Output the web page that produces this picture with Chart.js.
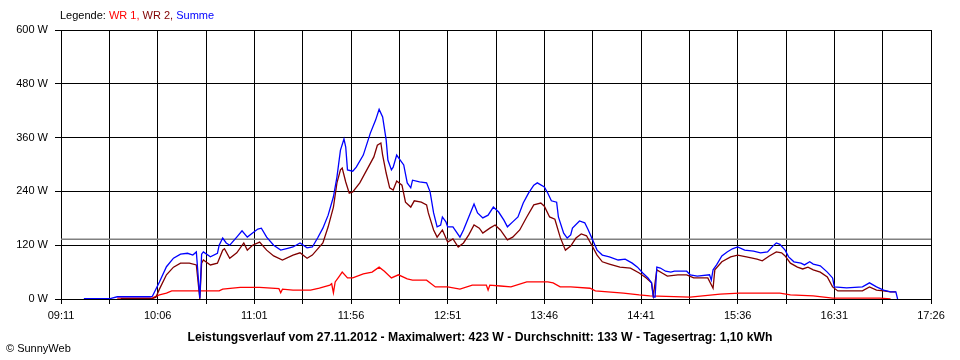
<!DOCTYPE html>
<html>
<head>
<meta charset="utf-8">
<script src="https://cdn.jsdelivr.net/npm/chart.js@4.4.0/dist/chart.umd.min.js"></script>
<style>
  body { margin: 0; background: #fff; }
  #wrap { position: relative; width: 960px; height: 360px; font-family: 'Liberation Sans', Arial, sans-serif; }
  #legend { position: absolute; left: 60px; top: 9px; font-size: 11px; color: #000; }
  #title { position: absolute; left: 0; top: 330px; width: 960px; text-align: center; font-size: 12.2px; font-weight: bold; }
  #copy { position: absolute; left: 6px; top: 342px; font-size: 11px; }
</style>
</head>
<body>
<div id="wrap">
  <canvas id="chart" width="960" height="360"></canvas>
  <div id="legend">Legende: <span style="color:#ff0000">WR 1,</span> <span style="color:#800000">WR 2,</span> <span style="color:#0000ff">Summe</span></div>
  <div id="title">Leistungsverlauf vom 27.11.2012 - Maximalwert: 423 W - Durchschnitt: 133 W - Tagesertrag: 1,10 kWh</div>
  <div id="copy">&copy; SunnyWeb</div>
</div>
<script>
// Achsenbeschriftung
const xTickLabels = ['09:11', '10:06', '11:01', '11:56', '12:51', '13:46', '14:41', '15:36', '16:31', '17:26'];
const yTicks = [0, 120, 240, 360, 480, 600];
const average = 133;

// Summe (blau)
const summeTimes = [
  '09:24','09:39','09:43','10:02','10:03','10:07','10:11','10:15','10:19','10:23',
  '10:26','10:28','10:30','10:31','10:32','10:36','10:40','10:41','10:43','10:45',
  '10:47','10:51','10:54','10:57','11:00','11:03','11:05','11:08','11:12','11:16',
  '11:20','11:23','11:27','11:31','11:34','11:37','11:40','11:43','11:46','11:48',
  '11:50','11:52','11:53','11:54','11:57','11:59','12:03','12:07','12:10','12:12',
  '12:14','12:16','12:17','12:19','12:20','12:22','12:24','12:26','12:28','12:30',
  '12:31','12:35','12:39','12:41','12:43','12:45','12:47','12:48','12:50','12:51',
  '12:54','12:58','13:00','13:03','13:06','13:08','13:11','13:14','13:17','13:20',
  '13:23','13:25','13:28','13:31','13:34','13:37','13:40','13:42','13:46','13:48',
  '13:50','13:53','13:54','13:57','13:59','14:01','14:02','14:06','14:09','14:11',
  '14:14','14:16','14:19','14:23','14:28','14:32','14:36','14:39','14:42','14:45',
  '14:47','14:48','14:49','14:50','14:52','14:55','14:58','15:00','15:07','15:09',
  '15:13','15:20','15:21','15:22','15:24','15:27','15:30','15:33','15:36','15:40',
  '15:45','15:49','15:53','15:56','15:58','16:00','16:03','16:05','16:08','16:12',
  '16:14','16:17','16:19','16:23','16:27','16:30','16:31','16:38','16:47','16:51',
  '16:55','16:59','17:03','17:06','17:07'
];
const summeValues = [
  1, 1, 5, 5, 6, 38, 72, 91, 100, 102,
  98, 105, 2, 100, 105, 94, 102, 120, 136, 125,
  120, 138, 152, 138, 147, 156, 158, 138, 120, 109,
  113, 116, 125, 114, 116, 136, 158, 187, 228, 272,
  332, 357, 339, 288, 285, 294, 321, 370, 399, 423,
  406, 355, 310, 288, 294, 321, 310, 299, 259, 248,
  265, 261, 259, 239, 192, 161, 165, 183, 172, 161,
  161, 138, 154, 183, 212, 192, 181, 187, 205, 194,
  176, 161, 172, 183, 214, 236, 254, 259, 250, 236,
  219, 216, 183, 147, 136, 143, 158, 174, 170, 154,
  127, 109, 98, 94, 87, 89, 80, 71, 58, 47,
  36, 4, 4, 71, 69, 62, 60, 62, 62, 54,
  51, 54, 42, 65, 76, 96, 105, 112, 116, 109,
  107, 103, 105, 118, 125, 122, 109, 94, 83, 80,
  76, 83, 78, 74, 60, 47, 27, 25, 27, 36,
  27, 20, 16, 16, 0
];

// WR 1 (rot)
const wr1Times = [
  '09:43','10:03','10:04','10:07','10:11','10:14','10:41','10:43','10:53','11:04',
  '11:15','11:16','11:17','11:23','11:33','11:38','11:44','11:45','11:46','11:47',
  '11:49','11:51','11:54','11:57','12:03','12:08','12:12','12:15','12:19','12:23',
  '12:28','12:31','12:39','12:44','12:51','12:58','13:05','13:13','13:14','13:15',
  '13:21','13:27','13:36','13:48','13:51','13:55','14:01','14:12','14:15','14:31',
  '14:40','14:46','15:09','15:26','15:37','15:56','16:00','16:06','16:19','16:30',
  '16:57','17:03'
];
const wr1Values = [
  2, 2, 4, 9, 13, 18, 18, 22, 26, 26,
  23, 14, 22, 20, 20, 24, 31, 34, 14, 38,
  49, 60, 47, 47, 56, 60, 71, 62, 47, 54,
  45, 42, 42, 27, 27, 22, 31, 31, 20, 31,
  29, 27, 38, 38, 36, 27, 27, 24, 18, 13,
  9, 7, 4, 11, 13, 13, 13, 9, 7, 2,
  2, 0
];

// WR 2 (dunkelrot)
const wr2Times = [
  '09:45','10:03','10:05','10:07','10:11','10:15','10:19','10:24','10:28','10:30',
  '10:31','10:32','10:36','10:40','10:43','10:44','10:47','10:51','10:55','10:57',
  '11:00','11:04','11:08','11:12','11:17','11:23','11:27','11:31','11:34','11:40',
  '11:43','11:46','11:48','11:50','11:51','11:53','11:55','11:57','12:01','12:05',
  '12:09','12:11','12:13','12:14','12:16','12:18','12:20','12:22','12:25','12:27',
  '12:30','12:32','12:36','12:39','12:40','12:43','12:45','12:48','12:51','12:54',
  '12:57','13:00','13:03','13:06','13:09','13:11','13:15','13:18','13:21','13:25',
  '13:28','13:32','13:36','13:40','13:44','13:46','13:49','13:52','13:55','13:58',
  '14:01','14:04','14:07','14:10','14:13','14:16','14:19','14:23','14:29','14:35',
  '14:40','14:44','14:47','14:48','14:50','14:53','14:56','15:02','15:07','15:11',
  '15:19','15:22','15:23','15:27','15:32','15:36','15:41','15:47','15:50','15:54',
  '15:58','16:01','16:03','16:06','16:10','16:13','16:16','16:19','16:23','16:27',
  '16:30','16:33','16:47','16:51','16:55','16:59','17:03','17:06'
];
const wr2Values = [
  1, 1, 4, 22, 54, 71, 80, 80, 76, 0,
  80, 87, 76, 80, 109, 112, 91, 103, 125, 109,
  120, 127, 109, 96, 87, 98, 103, 91, 98, 125,
  161, 205, 259, 288, 292, 261, 236, 239, 259, 288,
  317, 343, 348, 321, 281, 248, 243, 263, 254, 216,
  205, 219, 216, 210, 192, 154, 138, 154, 127, 134,
  116, 125, 143, 165, 158, 147, 158, 165, 154, 132,
  138, 154, 183, 210, 214, 207, 183, 178, 138, 109,
  118, 136, 145, 141, 120, 98, 83, 78, 71, 69,
  58, 47, 36, 7, 65, 58, 51, 54, 54, 47,
  47, 24, 65, 83, 94, 98, 94, 89, 85, 96,
  105, 103, 96, 80, 71, 67, 71, 65, 60, 49,
  27, 18, 18, 27, 20, 18, 16, 16
];

const clock = s => { const p = s.split(':').map(Number); return p[0] * 60 + p[1]; };
const start = clock(xTickLabels[0]);
const toX = s => clock(s) - start;
const fmt = v => {
  const m = Math.round(start + v);
  return String(Math.floor(m / 60)).padStart(2, '0') + ':' + String(m % 60).padStart(2, '0');
};
const points = (times, values) => times.map((t, i) => ({ x: toX(t), y: values[i] }));

const labelMinutes = xTickLabels.map(toX);
const gridMinutes = [];
labelMinutes.forEach((m, i) => {
  gridMinutes.push(m);
  if (i < labelMinutes.length - 1) gridMinutes.push((m + labelMinutes[i + 1]) / 2);
});
const xMax = labelMinutes[labelMinutes.length - 1];

const tickFont = { family: "'Liberation Sans', Arial, sans-serif", size: 11 };

new Chart(document.getElementById('chart'), {
  type: 'line',
  data: {
    datasets: [
      { label: 'Summe', data: points(summeTimes, summeValues), borderColor: '#0000ff', order: 0 },
      { label: 'WR 2', data: points(wr2Times, wr2Values), borderColor: '#800000', order: 1 },
      { label: 'WR 1', data: points(wr1Times, wr1Values), borderColor: '#ff0000', order: 2 },
      { label: 'Durchschnitt', data: [{ x: 0, y: average }, { x: xMax, y: average }], borderColor: '#808080', borderWidth: 1.5, order: 3 }
    ]
  },
  options: {
    responsive: false,
    animation: false,
    events: [],
    layout: { padding: { left: 0, top: 30, right: 29, bottom: 0 } },
    elements: {
      line: { borderWidth: 1.3, tension: 0, fill: false },
      point: { radius: 0 }
    },
    plugins: { legend: { display: false }, tooltip: { enabled: false } },
    scales: {
      x: {
        type: 'linear',
        min: 0,
        max: xMax,
        afterBuildTicks: scale => { scale.ticks = gridMinutes.map(v => ({ value: v })); },
        afterFit: scale => { scale.height = 61; },
        grid: { color: '#000', lineWidth: 1, tickLength: 5 },
        border: { color: '#000' },
        ticks: {
          autoSkip: false,
          maxRotation: 0,
          padding: 5,
          color: '#000',
          font: tickFont,
          callback: v => (labelMinutes.includes(v) ? fmt(v) : '')
        }
      },
      y: {
        min: 0,
        max: 600,
        afterBuildTicks: scale => { scale.ticks = yTicks.map(v => ({ value: v })); },
        afterFit: scale => { scale.width = 61; },
        grid: { color: '#000', lineWidth: 1, tickLength: 6 },
        border: { color: '#000' },
        ticks: { padding: 7, color: '#000', font: tickFont, callback: v => v + ' W' }
      }
    }
  }
});
</script>
</body>
</html>
